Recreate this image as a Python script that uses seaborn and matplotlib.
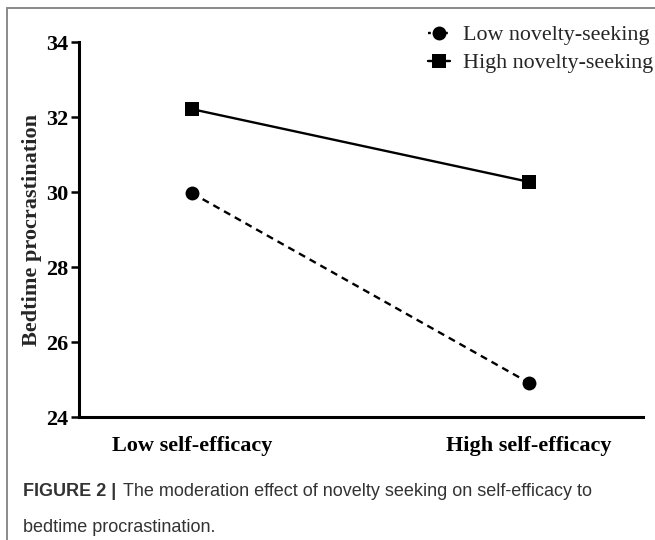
import pandas as pd
import matplotlib
import matplotlib.pyplot as plt
import seaborn as sns
from matplotlib.lines import Line2D

matplotlib.use('Agg')

# data
efficacy = ['Low self-efficacy', 'High self-efficacy']
low_novelty = [29.97, 24.91]
high_novelty = [32.21, 30.27]
groups = ['Low novelty-seeking', 'High novelty-seeking']
y_ticks = [24, 26, 28, 30, 32, 34]

df = pd.DataFrame({
    'x': [0, 1, 0, 1],
    'y': low_novelty + high_novelty,
    'group': [groups[0]] * 2 + [groups[1]] * 2,
})

sns.set_theme(style="white")
plt.rcParams['font.family'] = ['Liberation Serif', 'DejaVu Serif']

W, H = 655, 540
fig = plt.figure(figsize=(6.55, 5.40), dpi=100)
ax = fig.add_axes([79 / W, 1 - 417 / H, (643 - 79) / W, (417 - 42) / H])

lw = 1.7
sns.lineplot(data=df, x='x', y='y', hue='group', style='group',
             palette={groups[0]: 'black', groups[1]: 'black'},
             markers={groups[0]: 'o', groups[1]: 's'},
             dashes={groups[0]: (3.0, 2.2), groups[1]: ''},
             markersize=10, linewidth=lw, markeredgewidth=0,
             legend=False, ax=ax)

ax.set_xlim(-0.335, 1.338)
ax.set_ylim(24, 34)
ax.set_yticks(y_ticks)
ax.set_yticklabels([str(t) for t in y_ticks], fontsize=16, fontweight='bold')
ax.set_xticks([0, 1])
ax.set_xticklabels(efficacy, fontsize=16, fontweight='bold')
ax.tick_params(axis='y', direction='out', length=6, width=1.8, pad=2,
               left=True, colors='black')
ax.tick_params(axis='x', length=0, pad=14, colors='black')
ax.set_xlabel('')
ax.set_ylabel('Bedtime procrastination', fontsize=16, fontweight='bold')
ax.yaxis.set_label_coords(-0.065, 0.5)

for side in ['top', 'right']:
    ax.spines[side].set_visible(False)
for side in ['left', 'bottom']:
    ax.spines[side].set_linewidth(2.2)
    ax.spines[side].set_color('black')

handles = [
    Line2D([], [], color='black', marker='o', markersize=10, markeredgewidth=0,
           linewidth=lw, linestyle=(0, (1.2, 1.2))),
    Line2D([], [], color='black', marker='s', markersize=10, markeredgewidth=0,
           linewidth=lw),
]
fig.legend(handles, groups, loc='upper left',
           bbox_to_anchor=(428 / W, 1 - 25 / H), bbox_transform=fig.transFigure,
           frameon=False, fontsize=15.8, handlelength=1.0, handletextpad=0.6,
           labelspacing=0.35, borderpad=0, borderaxespad=0)

# gray frame of the figure panel
fig.add_artist(Line2D([7 / W, 1.0], [1 - 8 / H, 1 - 8 / H],
                      transform=fig.transFigure, color='#8a8a8a', linewidth=1.4))
fig.add_artist(Line2D([7 / W, 7 / W], [0, 1 - 8 / H],
                      transform=fig.transFigure, color='#8a8a8a', linewidth=1.4))

cap_font = ['Liberation Sans', 'DejaVu Sans']
fig.text(23 / W, 1 - 491 / H, 'FIGURE 2 |', family=cap_font, fontsize=13,
         fontweight='bold', color='#333333', va='center')
fig.text(123 / W, 1 - 491 / H,
         'The moderation effect of novelty seeking on self-efficacy to',
         family=cap_font, fontsize=13, color='#333333', va='center')
fig.text(23 / W, 1 - 527 / H, 'bedtime procrastination.',
         family=cap_font, fontsize=13, color='#333333', va='center')

plt.savefig('out.png', dpi=100)
